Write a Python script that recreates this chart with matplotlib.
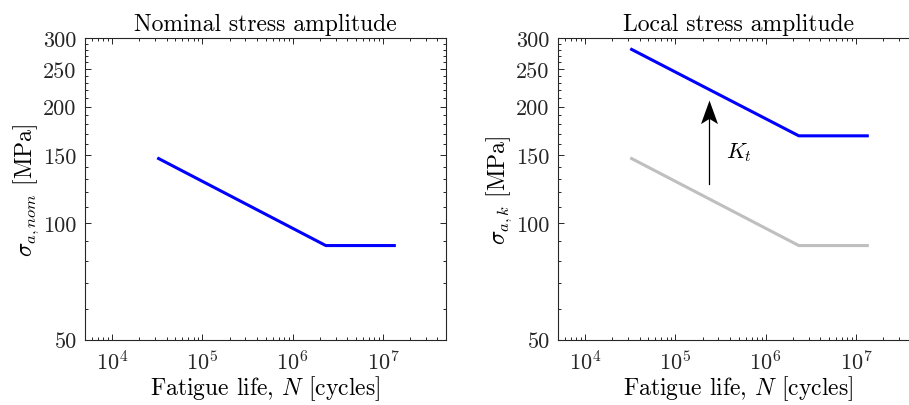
import matplotlib
matplotlib.use('Agg')
import matplotlib.pyplot as plt
import matplotlib.ticker as mticker
from matplotlib.path import Path
import numpy as np

plt.rcParams['font.family'] = 'serif'
plt.rcParams['font.serif'] = ['cmr10']
plt.rcParams['mathtext.fontset'] = 'cm'
plt.rcParams['axes.formatter.use_mathtext'] = True
plt.rcParams['font.size'] = 16

# S-N curve points (cycles, MPa)
N_pts = [3.16e4, 2.33e6, 1.39e7]
S_nom = [147.4, 87.5, 87.5]
S_loc = [282.0, 168.0, 168.0]

# arrow and label for Kt
arrow_N = 2.37e5
arrow_from = 126.0
arrow_to = 208.0
kt_pos = (3.6e5, 153.0)

y_major = [50, 100, 150, 200, 250, 300]
y_minor = list(range(50, 301, 10))
x_major = [1e4, 1e5, 1e6, 1e7]

fig = plt.figure(figsize=(9.09, 4.06), dpi=100)
ax1 = fig.add_axes([85/909, 1 - 340.7/406, 361/909, 301.4/406])
ax2 = fig.add_axes([558/909, 1 - 340.7/406, 361/909, 301.4/406])

ax1.plot(N_pts, S_nom, color='#0000ff', lw=2.2, solid_capstyle='butt')
ax2.plot(N_pts, S_nom, color='#bfbfbf', lw=2.2, solid_capstyle='butt')
ax2.plot(N_pts, S_loc, color='#0000ff', lw=2.2, solid_capstyle='butt')

# matlab-like arrow: thin shaft + concave head (tip of marker sits at the data point)
ax2.plot([arrow_N, arrow_N], [arrow_from, arrow_to * 0.93], color='black', lw=0.9)
head = Path([(0, 0), (-0.36, -1), (0, -0.78), (0.36, -1), (0, 0)],
            [Path.MOVETO, Path.LINETO, Path.LINETO, Path.LINETO, Path.CLOSEPOLY])
ax2.plot([arrow_N], [arrow_to], marker=head, ms=34, color='black', mew=0)
ax2.text(kt_pos[0], kt_pos[1], r'$K_t$', ha='left', va='center', fontsize=16)

for ax, title, ylab in [(ax1, 'Nominal stress amplitude', r'$\sigma_{a,nom}$ [MPa]'),
                        (ax2, 'Local stress amplitude', r'$\sigma_{a,k}$ [MPa]')]:
    ax.set_xscale('log')
    ax.set_yscale('log')
    ax.set_xlim(5e3, 5e7)
    ax.set_ylim(50, 300)
    ax.set_xticks(x_major)
    ax.xaxis.set_minor_locator(mticker.LogLocator(base=10, subs=np.arange(2, 10)))
    ax.xaxis.set_minor_formatter(mticker.NullFormatter())
    ax.set_yticks(y_major)
    ax.set_yticklabels([str(v) for v in y_major])
    ax.yaxis.set_minor_locator(mticker.FixedLocator(y_minor))
    ax.yaxis.set_minor_formatter(mticker.NullFormatter())
    ax.tick_params(which='both', direction='in', top=True, right=True,
                   colors='#262626', labelcolor='#262626', width=0.7)
    ax.tick_params(which='major', length=4, labelsize=16)
    ax.tick_params(axis='y', which='major', pad=6)
    ax.tick_params(axis='x', which='major', pad=7)
    ax.tick_params(which='minor', length=2)
    for sp in ax.spines.values():
        sp.set_color('#262626')
        sp.set_linewidth(0.8)
    ax.set_title(title, fontsize=17, pad=6)
    ax.set_xlabel(r'Fatigue life, $N$ [cycles]', fontsize=17, labelpad=0)
    ax.set_ylabel(ylab, fontsize=17, labelpad=2)

fig.savefig('out.png', dpi=100)
